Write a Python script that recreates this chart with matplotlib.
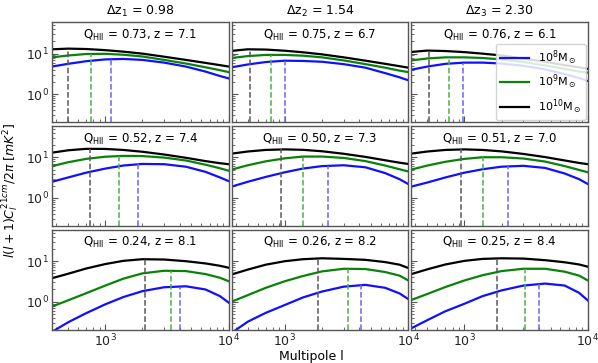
import numpy as np
import matplotlib
matplotlib.use("Agg")
import matplotlib.pyplot as plt

ell = [370, 500, 700, 1000, 1400, 2000, 3000, 4500, 6500, 8500, 10000]

dz_titles = [r"$\Delta$z$_1$ = 0.98", r"$\Delta$z$_2$ = 1.54", r"$\Delta$z$_3$ = 2.30"]
q_labels = [
    ["0.73, z = 7.1", "0.75, z = 6.7", "0.76, z = 6.1"],
    ["0.52, z = 7.4", "0.50, z = 7.3", "0.51, z = 7.0"],
    ["0.24, z = 8.1", "0.26, z = 8.2", "0.25, z = 8.4"],
]
mass_labels = [r"10$^8$M$_\odot$", r"10$^9$M$_\odot$", r"10$^{10}$M$_\odot$"]

# C_l curves, rows = Q_HII panels (row-major), per halo mass
cl_1e8 = [
    [4.8, 5.6, 6.5, 7.2, 7.4, 7.0, 6.0, 4.8, 3.6, 2.8, 2.45],
    [4.6, 5.4, 6.2, 6.7, 6.6, 6.3, 5.5, 4.5, 3.3, 2.6, 2.2],
    [4.0, 4.8, 5.6, 6.0, 6.0, 5.7, 5.0, 4.1, 3.1, 2.5, 2.1],
    [2.5, 3.2, 4.2, 5.3, 6.3, 6.9, 6.8, 5.9, 4.4, 3.2, 2.6],
    [1.9, 2.5, 3.3, 4.3, 5.3, 6.1, 6.4, 5.7, 4.1, 2.9, 2.2],
    [1.9, 2.4, 3.2, 4.2, 5.1, 5.9, 6.2, 5.5, 4.0, 2.9, 2.2],
    [0.18, 0.31, 0.52, 0.86, 1.3, 1.82, 2.27, 2.4, 2.0, 1.37, 0.95],
    [0.17, 0.32, 0.53, 0.83, 1.27, 1.78, 2.35, 2.6, 2.2, 1.6, 1.16],
    [0.22, 0.35, 0.58, 0.89, 1.37, 1.9, 2.5, 2.8, 2.5, 1.65, 1.07],
]
cl_1e9 = [
    [8.1, 9.0, 9.8, 9.9, 9.4, 8.5, 7.0, 5.7, 4.6, 3.9, 3.5],
    [7.8, 8.7, 9.3, 9.3, 8.9, 8.1, 6.8, 5.5, 4.5, 3.8, 3.5],
    [6.8, 7.6, 8.1, 8.1, 7.8, 7.2, 6.2, 5.1, 4.2, 3.6, 3.4],
    [6.1, 7.6, 9.2, 10.4, 10.9, 10.8, 9.9, 8.4, 6.6, 5.4, 4.7],
    [5.0, 6.4, 8.0, 9.5, 10.5, 10.5, 9.7, 8.1, 6.3, 5.1, 4.5],
    [5.0, 6.3, 7.8, 9.2, 10.1, 10.1, 9.4, 7.9, 6.1, 4.9, 4.3],
    [0.76, 1.08, 1.62, 2.5, 3.7, 5.0, 5.8, 5.7, 4.8, 3.9, 3.2],
    [1.0, 1.45, 2.2, 3.2, 4.3, 5.6, 6.5, 6.4, 5.4, 4.4, 3.35],
    [1.1, 1.55, 2.3, 3.35, 4.5, 5.7, 6.5, 6.5, 5.5, 4.4, 3.35],
]
cl_1e10 = [
    [12.8, 13.3, 13.0, 12.2, 11.2, 10.0, 8.4, 7.0, 5.9, 5.2, 4.8],
    [11.7, 12.8, 12.6, 11.8, 10.8, 9.6, 8.1, 6.7, 5.6, 4.9, 4.5],
    [11.0, 11.9, 11.6, 10.9, 10.0, 9.0, 7.6, 6.3, 5.2, 4.6, 4.2],
    [13.1, 15.0, 16.3, 16.2, 15.3, 13.8, 11.8, 9.8, 8.1, 7.2, 6.8],
    [12.4, 14.0, 15.3, 15.8, 15.4, 14.2, 12.3, 10.3, 8.5, 7.4, 6.9],
    [12.4, 14.0, 15.3, 15.8, 15.3, 14.1, 12.2, 10.2, 8.4, 7.3, 6.8],
    [3.8, 4.9, 6.6, 8.5, 10.2, 11.2, 11.0, 10.0, 8.8, 7.7, 6.9],
    [4.7, 6.2, 8.2, 10.0, 11.2, 11.8, 11.4, 10.8, 9.5, 8.2, 6.8],
    [4.8, 6.3, 8.3, 10.2, 11.4, 11.8, 11.6, 10.6, 9.4, 8.3, 7.3],
]

# peak multipoles (dashed markers), per panel
peak_1e8 = [1120, 1000, 980, 1840, 2230, 2240, 4030, 4130, 4030]
peak_1e9 = [760, 767, 752, 1300, 1413, 1413, 3380, 3260, 3100]
peak_1e10 = [500, 520, 511, 746, 935, 940, 2100, 1860, 1845]

colors = ["#1010ff", "#0a820a", "black"]
dash_colors = ["#6666ff", "#4caf4c", "#5a5a5a"]
series = [cl_1e8, cl_1e9, cl_1e10]
peaks = [peak_1e8, peak_1e9, peak_1e10]

ymin, ymax = 0.2, 60

fig, axes = plt.subplots(3, 3, figsize=(5.98, 3.63), dpi=100, sharex=True, sharey=True)
fig.subplots_adjust(left=0.087, right=0.983, top=0.939, bottom=0.091, wspace=0.017, hspace=0.035)

for i in range(3):
    for j in range(3):
        ax = axes[i, j]
        k = i * 3 + j
        for m in range(3):
            y = np.array(series[m][k])
            ax.plot(ell, y, color=colors[m], lw=1.6, label=mass_labels[m])
            p = peaks[m][k]
            yp = 10 ** np.interp(np.log10(p), np.log10(ell), np.log10(y))
            ax.plot([p, p], [ymin, yp], color=dash_colors[m], ls="--", lw=1.1)
        ax.set_xscale("log")
        ax.set_yscale("log")
        ax.set_xlim(370, 1e4)
        ax.set_ylim(ymin, ymax)
        ax.text(0.5, 0.87, r"Q$_{\rm HII}$ = " + q_labels[i][j], transform=ax.transAxes,
                ha="center", va="center", fontsize=8.5)
        for s in ax.spines.values():
            s.set_color("#555555")
            s.set_linewidth(1.0)
        ax.tick_params(which="both", direction="in", colors="#555555", labelcolor="#222222",
                       labelsize=9, pad=2)
        ax.tick_params(which="major", length=4)
        ax.tick_params(which="minor", length=2)
        if i == 0:
            ax.set_title(dz_titles[j], fontsize=9, pad=5)

axes[0, 2].legend(loc="lower right", fontsize=8, handlelength=2.6, borderaxespad=0.2,
                  labelspacing=0.55, framealpha=0.85, edgecolor="#cccccc")

fig.text(0.52, 0.018, "Multipole l", ha="center", va="center", fontsize=9)
fig.text(0.018, 0.477, r"$l(l+1)C_l^{21cm}/2\pi\ [mK^2]$", rotation=90,
         ha="center", va="center", fontsize=9)

fig.savefig("out.png", dpi=100)
